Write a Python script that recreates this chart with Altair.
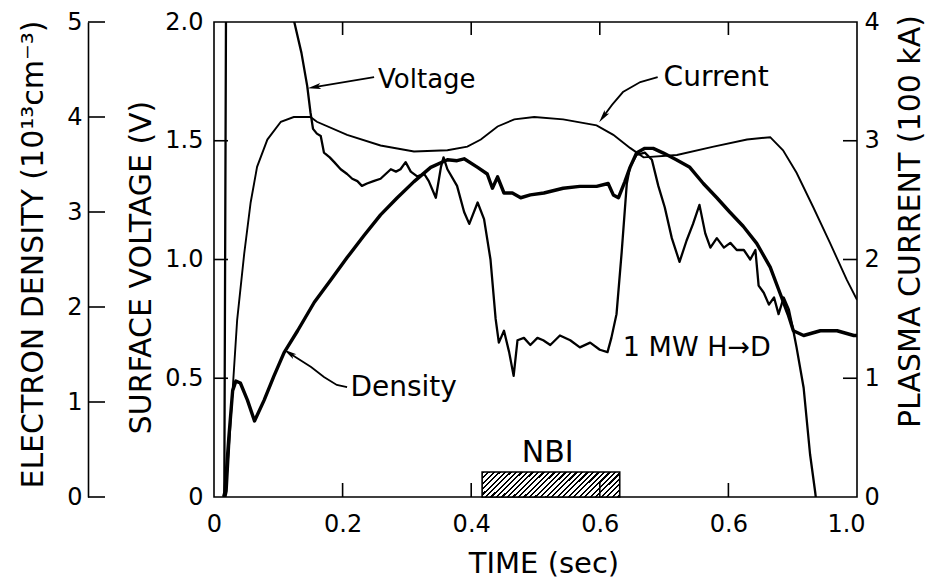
import math
import altair as alt
import pandas as pd

FONT = "DejaVu Sans"
W, H = 643, 475

# ---------------- axes ----------------
X_TICKS = [0, 0.2, 0.4, 0.6, 0.8, 1.0]
X_TICK_LABELS = ["0", "0.2", "0.4", "0.6", "0.6", "1.0"]
X_INNER_TICKS = [0.2, 0.4, 0.6, 0.8]
V_TICKS = [0, 0.5, 1.0, 1.5, 2.0]
V_INNER_TICKS = [0.5, 1.0, 1.5]
I_TICKS = [0, 1, 2, 3, 4]
I_INNER_TICKS = [1, 2, 3]
N_TICKS = [0, 1, 2, 3, 4, 5]

# ---------------- series ----------------
current_t = [0.018, 0.020, 0.026, 0.036, 0.047, 0.057, 0.067, 0.083, 0.104, 0.124,
             0.150, 0.160, 0.207, 0.259, 0.311, 0.363, 0.394, 0.415, 0.441, 0.467,
             0.498, 0.543, 0.595, 0.621, 0.647, 0.668, 0.720, 0.777, 0.829, 0.865,
             0.885, 0.906, 0.932, 0.958, 0.984, 1.000]
current_i = [0.0, 0.05, 0.65, 1.49, 2.05, 2.48, 2.78, 3.01, 3.16, 3.20,
             3.20, 3.16, 3.05, 2.96, 2.91, 2.92, 2.95, 3.01, 3.12, 3.18,
             3.20, 3.18, 3.13, 3.05, 2.94, 2.86, 2.88, 2.95, 3.01, 3.03,
             2.92, 2.73, 2.44, 2.14, 1.83, 1.66]

voltage_t = [0.016, 0.019, 0.112, 0.124, 0.136, 0.145, 0.150, 0.154, 0.160, 0.166,
             0.171, 0.180, 0.187, 0.197, 0.207, 0.215, 0.223, 0.230, 0.238, 0.248,
             0.259, 0.267, 0.275, 0.283, 0.290, 0.298, 0.306, 0.316, 0.327, 0.334,
             0.345, 0.353, 0.357, 0.363, 0.378, 0.389, 0.397, 0.410, 0.420, 0.430,
             0.438, 0.443, 0.451, 0.459, 0.466, 0.472, 0.482, 0.492, 0.503, 0.512,
             0.523, 0.538, 0.554, 0.569, 0.585, 0.600, 0.612, 0.618, 0.626, 0.634,
             0.642, 0.647, 0.657, 0.670, 0.681, 0.691, 0.701, 0.712, 0.724, 0.735,
             0.745, 0.755, 0.764, 0.772, 0.782, 0.793, 0.803, 0.813, 0.824, 0.834,
             0.842, 0.847, 0.855, 0.863, 0.871, 0.878, 0.886, 0.894, 0.901, 0.906,
             0.917, 0.927, 0.935, 0.938]
voltage_v = [0.0, 2.3, 2.15, 2.01, 1.87, 1.73, 1.62, 1.55, 1.53, 1.52,
             1.45, 1.43, 1.41, 1.38, 1.36, 1.34, 1.33, 1.31, 1.32, 1.33,
             1.34, 1.36, 1.38, 1.37, 1.38, 1.41, 1.37, 1.35, 1.36, 1.33,
             1.26, 1.39, 1.43, 1.38, 1.31, 1.20, 1.15, 1.24, 1.17, 1.00,
             0.75, 0.65, 0.70, 0.61, 0.51, 0.66, 0.67, 0.64, 0.67, 0.66,
             0.64, 0.68, 0.66, 0.63, 0.65, 0.62, 0.61, 0.67, 0.77, 1.03,
             1.32, 1.39, 1.44, 1.45, 1.42, 1.31, 1.22, 1.09, 0.99, 1.08,
             1.15, 1.23, 1.11, 1.05, 1.09, 1.05, 1.07, 1.04, 1.04, 1.00,
             1.04, 0.89, 0.86, 0.81, 0.84, 0.77, 0.84, 0.79, 0.70, 0.63,
             0.46, 0.18, 0.02, -0.05]

density_t = [0.015, 0.017, 0.023, 0.029, 0.034, 0.041, 0.052, 0.063, 0.078, 0.093,
             0.109, 0.130, 0.156, 0.181, 0.207, 0.233, 0.259, 0.285, 0.311, 0.337,
             0.363, 0.378, 0.389, 0.410, 0.425, 0.433, 0.441, 0.451, 0.464, 0.477,
             0.492, 0.513, 0.543, 0.569, 0.595, 0.613, 0.621, 0.629, 0.639, 0.647,
             0.657, 0.670, 0.683, 0.699, 0.719, 0.740, 0.761, 0.782, 0.802, 0.823,
             0.844, 0.865, 0.880, 0.893, 0.901, 0.917, 0.943, 0.969, 0.995, 1.000]
density_n = [0.0, 0.05, 0.62, 1.12, 1.22, 1.20, 1.02, 0.80, 1.02, 1.27,
             1.52, 1.75, 2.05, 2.28, 2.52, 2.75, 2.97, 3.15, 3.32, 3.47,
             3.55, 3.54, 3.56, 3.47, 3.40, 3.25, 3.37, 3.20, 3.20, 3.15,
             3.18, 3.20, 3.25, 3.27, 3.27, 3.30, 3.18, 3.15, 3.32, 3.47,
             3.62, 3.67, 3.67, 3.62, 3.55, 3.47, 3.30, 3.15, 3.00, 2.85,
             2.67, 2.42, 2.15, 1.92, 1.75, 1.70, 1.75, 1.75, 1.70, 1.70]

# NBI pulse (time start, time end, bar height in volts)
nbi_t = [0.417, 0.631]
nbi_v = [0.0, 0.105]

# ---------------- annotations (voltage-axis coordinates) ----------------
label_text = ["Voltage", "Current", "Density", "1 MW H\u2192D", "NBI"]
label_t = [0.331, 0.781, 0.295, 0.751, 0.519]
label_v = [1.756, 1.764, 0.459, 0.627, 0.185]
label_size = [26, 28, 28, 27, 30]

arrow_voltage_t = [0.249, 0.156]
arrow_voltage_v = [1.768, 1.726]
arrow_current_t = [0.690, 0.663, 0.636, 0.619, 0.605]
arrow_current_v = [1.768, 1.747, 1.705, 1.651, 1.600]
arrow_density_t = [0.207, 0.191, 0.171, 0.151, 0.129, 0.117]
arrow_density_v = [0.463, 0.472, 0.505, 0.547, 0.585, 0.606]

# ---------------- build ----------------
x_scale = alt.Scale(domain=[0, 1], nice=False)
v_scale = alt.Scale(domain=[0, 2], nice=False)
i_scale = alt.Scale(domain=[0, 4], nice=False)
n_scale = alt.Scale(domain=[0, 5], nice=False)

x_expr = ""
for val, lab in zip(X_TICKS, X_TICK_LABELS):
    x_expr += f"abs(datum.value - {val}) < 0.01 ? '{lab}' : "
x_expr += "''"

axis_common = dict(ticks=False, grid=False, labelFont=FONT, labelFontSize=24,
                   labelColor="black", titleFont=FONT, titleFontWeight="normal",
                   titleColor="black", labelFlush=False, labelOverlap=False)

x_axis = alt.Axis(values=X_TICKS, labelExpr=x_expr, domain=False, labelPadding=15,
                  labelOffset={"condition": {"test": "datum.value > 0.99", "value": -11},
                               "value": 0},
                  title="TIME (sec)", titleFontSize=29, titleY=52, titleBaseline="top",
                  titleX=W / 2 + 8, titleAlign="center", **axis_common)
v_axis = alt.Axis(orient="left", values=V_TICKS, domain=False,
                  labelExpr="datum.value == 0 ? '0' : format(datum.value, '.1f')",
                  labelPadding=11, title="SURFACE VOLTAGE (V)", titleFontSize=30,
                  titleAngle=270, titleX=-73, titleY=245, titleBaseline="middle",
                  titleAlign="center", **axis_common)
n_axis = alt.Axis(orient="left", offset=126, values=N_TICKS, format="d", domain=True,
                  domainColor="black", domainWidth=1.6, labelPadding=6,
                  title="ELECTRON DENSITY (10\u00b9\u00b3cm\u207b\u00b3)", titleFontSize=30,
                  titleAngle=270, titleX=-55, titleY=232, titleBaseline="middle",
                  titleAlign="center", **axis_common)
i_axis = alt.Axis(orient="right", values=I_TICKS, format="d", domain=False,
                  labelPadding=7, title="PLASMA CURRENT (100 kA)", titleFontSize=30,
                  titleAngle=270, titleX=53, titleY=199, titleBaseline="middle",
                  titleAlign="center", **axis_common)


def X(field):
    return alt.X(field, scale=x_scale, axis=x_axis)


# hatched fill for the NBI bar
stops = []
n_per = 31
d = 1.0 / n_per
for k in range(n_per):
    a = k * d
    stops += [alt.GradientStop(color="black", offset=a),
              alt.GradientStop(color="black", offset=a + 0.42 * d),
              alt.GradientStop(color="white", offset=a + 0.42 * d),
              alt.GradientStop(color="white", offset=min(1.0, a + d))]
hatch = alt.LinearGradient(gradient="linear", stops=stops, x1=0, y1=0, x2=1.2, y2=0.22)

nbi_df = pd.DataFrame({"t": [nbi_t[0]], "t1": [nbi_t[1]], "v0": [nbi_v[0]], "v1": [nbi_v[1]]})
nbi = alt.Chart(nbi_df).mark_rect(fill=hatch, stroke="black", strokeWidth=1.6).encode(
    x=X("t:Q"),
    x2="t1:Q",
    y=alt.Y("v0:Q", scale=v_scale, axis=v_axis),
    y2="v1:Q",
)

voltage = alt.Chart(pd.DataFrame({"t": voltage_t, "v": voltage_v})).mark_line(
    color="black", strokeWidth=2.3, clip=True, strokeJoin="round").encode(
    x=X("t:Q"),
    y=alt.Y("v:Q", scale=v_scale, axis=None),
)

current = alt.Chart(pd.DataFrame({"t": current_t, "i": current_i})).mark_line(
    color="black", strokeWidth=1.9, clip=True).encode(
    x=X("t:Q"),
    y=alt.Y("i:Q", scale=i_scale, axis=i_axis),
)

density = alt.Chart(pd.DataFrame({"t": density_t, "n": density_n})).mark_line(
    color="black", strokeWidth=3.4, clip=True, strokeJoin="round").encode(
    x=X("t:Q"),
    y=alt.Y("n:Q", scale=n_scale, axis=n_axis),
)

rule = dict(color="black", strokeWidth=1.6)
xt_bottom = alt.Chart(pd.DataFrame({"t": X_INNER_TICKS})).mark_rule(**rule).encode(
    x=X("t:Q"), y=alt.value(H), y2=alt.value(H - 14))
xt_top = alt.Chart(pd.DataFrame({"t": X_INNER_TICKS})).mark_rule(**rule).encode(
    x=X("t:Q"), y=alt.value(0), y2=alt.value(13))
vt_left = alt.Chart(pd.DataFrame({"v": V_INNER_TICKS})).mark_rule(**rule).encode(
    y=alt.Y("v:Q", scale=v_scale, axis=None), x=alt.value(0), x2=alt.value(14))
it_right = alt.Chart(pd.DataFrame({"i": I_INNER_TICKS})).mark_rule(**rule).encode(
    y=alt.Y("i:Q", scale=i_scale, axis=None), x=alt.value(W), x2=alt.value(W - 14))
nt_left = alt.Chart(pd.DataFrame({"n": N_TICKS})).mark_rule(**rule).encode(
    y=alt.Y("n:Q", scale=n_scale, axis=None), x=alt.value(-126), x2=alt.value(-109))

texts = []
for txt, tt, vv, fs in zip(label_text, label_t, label_v, label_size):
    texts.append(
        alt.Chart(pd.DataFrame({"t": [tt], "v": [vv], "label": [txt]})).mark_text(
            font=FONT, fontSize=fs, align="center", baseline="middle", color="black").encode(
            x=X("t:Q"),
            y=alt.Y("v:Q", scale=v_scale, axis=None),
            text="label:N")
    )

arrows = [(arrow_voltage_t, arrow_voltage_v), (arrow_current_t, arrow_current_v),
          (arrow_density_t, arrow_density_v)]
rows, heads = [], []
for a_id, (ts, vs) in enumerate(arrows):
    for k, (tt, vv) in enumerate(zip(ts, vs)):
        rows.append({"arrow": a_id, "k": k, "t": tt, "v": vv})
    dx = (ts[-1] - ts[-2]) * W
    dy = -(vs[-1] - vs[-2]) * H / 2.0
    ang = math.degrees(math.atan2(-dy, -dx)) % 360
    heads.append({"t": ts[-1], "v": vs[-1], "angle": ang})

arrow_lines = alt.Chart(pd.DataFrame(rows)).mark_line(color="black", strokeWidth=1.8).encode(
    x=X("t:Q"),
    y=alt.Y("v:Q", scale=v_scale, axis=None),
    detail="arrow:N",
    order="k:Q",
)
arrow_heads = alt.Chart(pd.DataFrame(heads)).mark_point(
    shape="M -1 0 L 1 -0.45 L 0.55 0 L 1 0.45 Z", filled=True, size=170,
    color="black", opacity=1, strokeWidth=0).encode(
    x=X("t:Q"),
    y=alt.Y("v:Q", scale=v_scale, axis=None),
    angle=alt.Angle("angle:Q", scale=None),
)

chart = alt.layer(
    nbi, voltage, current, density, xt_bottom, xt_top, vt_left, it_right, nt_left,
    *texts, arrow_lines, arrow_heads,
).resolve_scale(y="independent").properties(
    width=W, height=H,
    autosize=alt.AutoSizeParams(type="none"),
    padding={"left": 214, "top": 22, "right": 71, "bottom": 85},
    background="white",
).configure_view(stroke="black", strokeWidth=1.6)

chart.save("out.html", embed_options={"renderer": "svg", "actions": False})
